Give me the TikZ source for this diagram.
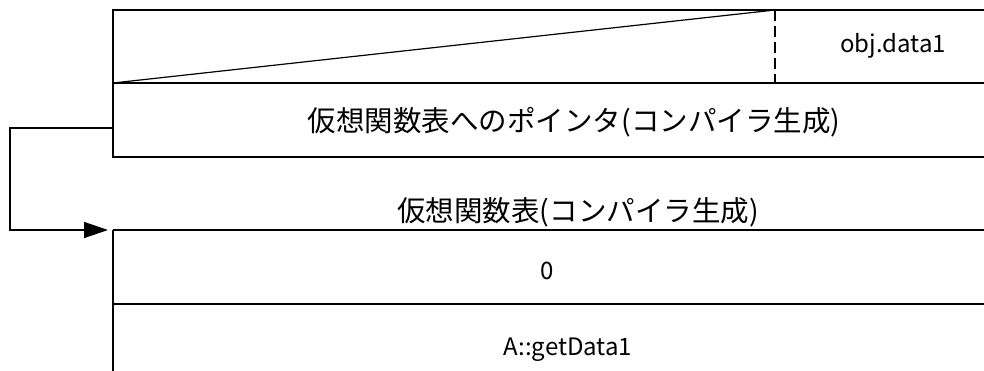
\documentclass[tikz,border=0pt]{standalone}
\usepackage{fontspec}
\setmainfont{Noto Sans CJK JP}
\usetikzlibrary{arrows.meta}
\begin{document}
\begin{tikzpicture}[x=1pt,y=-1pt,
  boxline/.style={line width=1.4pt},
  cjk/.style={font=\fontsize{28.5}{30}\selectfont, inner sep=0pt, anchor=center},
  lat/.style={font=\fontsize{24}{26}\selectfont, inner sep=0pt, anchor=center},
  ptr/.style={line width=1.4pt, -{Triangle[length=24pt,width=16pt]}}]
\useasboundingbox (0,0) rectangle (984,371);
% coordinates of the top structure
\coordinate (tTL) at (113,10);
\coordinate (tTR) at (984,10);
\coordinate (tML) at (113,83);
\coordinate (tMR) at (984,83);
\coordinate (tBL) at (113,157);
\coordinate (tBR) at (984,157);
\coordinate (dTop) at (775,10);
\coordinate (dBot) at (775,83);
% top structure
\draw[boxline] (tTR) -- (tTL) -- (tBL) -- (tBR);
\draw[boxline] (tML) -- (tMR);
\draw[line width=1.2pt] (tML) -- (dTop);
\draw[line width=1.8pt, dash pattern=on 11pt off 5pt] (dTop) -- (dBot);
\node[lat] (obj) at (893,46) {obj.data1};
\node[cjk] (vptr) at (574,122) {仮想関数表へのポインタ(コンパイラ生成)};
% lower table
\coordinate (bTL) at (113,230);
\coordinate (bTR) at (984,230);
\coordinate (bML) at (113,304);
\coordinate (bMR) at (984,304);
\coordinate (bBL) at (113,371);
\draw[line width=1.9pt] (bTL) -- (bTR);
\draw[boxline] (bTL) -- (bBL);
\draw[boxline] (bML) -- (bMR);
\node[cjk] (vtbl) at (578,212) {仮想関数表(コンパイラ生成)};
\node[lat] (zero) at (547,271) {0};
\node[lat] (getd) at (568,350) {A::getData1};
% pointer arrow
\coordinate (pStart) at (113,128);
\coordinate (pTip) at (108,230);
\draw[ptr] (pStart) -- (10,128) |- (pTip);
\end{tikzpicture}
\end{document}
